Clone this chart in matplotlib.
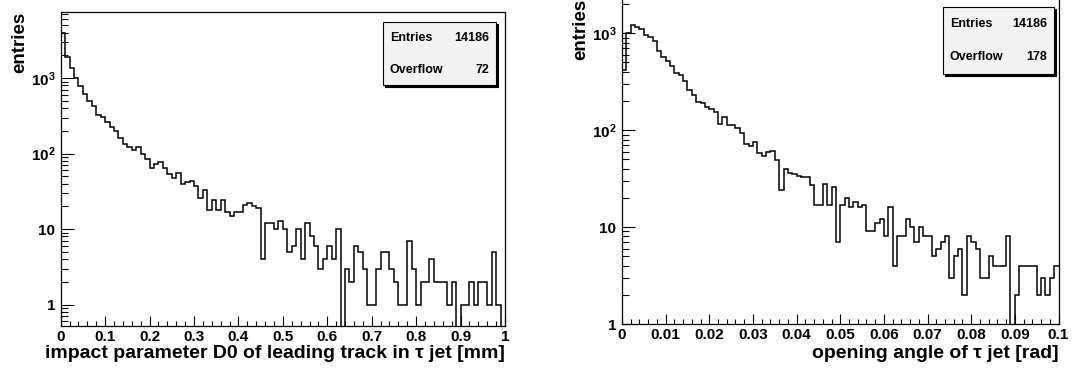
import numpy as np
import matplotlib
matplotlib.use('Agg')
import matplotlib.pyplot as plt
from matplotlib.ticker import FixedLocator, LogLocator, MultipleLocator, FuncFormatter, NullFormatter
from matplotlib.patches import Rectangle

plt.rcParams['font.family'] = ['Liberation Sans', 'DejaVu Sans']
plt.rcParams['font.weight'] = 'bold'
plt.rcParams['mathtext.fontset'] = 'custom'
plt.rcParams['mathtext.rm'] = 'Liberation Sans:bold'
plt.rcParams['mathtext.it'] = 'Liberation Sans:bold'
plt.rcParams['mathtext.bf'] = 'Liberation Sans:bold'

# impact parameter D0 histogram, 100 bins over [0, 1] mm
d0_counts = [4000, 1930, 1350, 1000, 790, 610, 500, 430, 330, 310,
             260, 228, 200, 162, 133, 123, 112, 123, 100, 85,
             64, 74, 78, 64, 53, 48, 55, 40, 42, 44,
             37, 26, 33, 18, 24, 18, 24, 17, 15, 17,
             17, 21, 22, 20, 19, 4, 12, 12, 10, 13,
             10, 5, 6, 10, 4, 12, 8, 6, 3, 4,
             6, 4, 10, 0, 3, 2, 6, 5, 3, 1,
             1, 3, 5, 5, 3, 2, 1, 1, 7, 3,
             1, 2, 2, 4, 2, 2, 2, 1, 2, 0,
             1, 1, 2, 1, 2, 2, 1, 5, 1, 0]
d0_range = (0.0, 1.0)
d0_stats = [('Entries', '14186'), ('Overflow', '72')]

# opening angle histogram, 100 bins over [0, 0.1] rad
angle_counts = [420, 1000, 1220, 1170, 1110, 960, 910, 840, 660, 570,
                520, 460, 385, 370, 318, 260, 230, 197, 189, 175,
                164, 153, 117, 135, 113, 113, 106, 94, 72, 68,
                76, 58, 54, 60, 61, 49, 24, 40, 36, 35,
                34, 33, 33, 27, 17, 17, 28, 17, 26, 7,
                17, 20, 16, 18, 16, 17, 9, 9, 11, 12,
                8, 16, 4, 8, 8, 12, 10, 7, 10, 8,
                8, 5, 6, 7, 8, 3, 5, 6, 2, 8,
                7, 6, 3, 3, 5, 4, 4, 4, 8, 0,
                2, 4, 4, 4, 4, 2, 3, 2, 3, 4]
angle_range = (0.0, 0.1)
angle_stats = [('Entries', '14186'), ('Overflow', '178')]

d0_xticks = [0, 0.1, 0.2, 0.3, 0.4, 0.5, 0.6, 0.7, 0.8, 0.9, 1]
d0_xlabels = ['0', '0.1', '0.2', '0.3', '0.4', '0.5', '0.6', '0.7', '0.8', '0.9', '1']
angle_xticks = [0, 0.01, 0.02, 0.03, 0.04, 0.05, 0.06, 0.07, 0.08, 0.09, 0.1]
angle_xlabels = ['0', '0.01', '0.02', '0.03', '0.04', '0.05', '0.06', '0.07', '0.08', '0.09', '0.1']
ylabels = {1: '1', 10: '10', 100: r'$10^{2}$', 1000: r'$10^{3}$'}

W, H = 1073, 377
fig = plt.figure(figsize=(W / 100, H / 100), dpi=100)


def px_axes(x0, y0, x1, y1):
    return fig.add_axes([x0 / W, 1 - y1 / H, (x1 - x0) / W, (y1 - y0) / H])


def ylab(v, pos):
    return ylabels.get(int(round(v)), '')


def draw_hist(ax, counts, xr, xticks, xlabels, xminor, ylim):
    edges = np.linspace(xr[0], xr[1], len(counts) + 1)
    ax.stairs(counts, edges, color='black', lw=1.1, baseline=None)
    ax.set_yscale('log')
    ax.set_xlim(xr)
    ax.set_ylim(ylim)
    ax.yaxis.set_major_locator(FixedLocator([1, 10, 100, 1000]))
    ax.yaxis.set_major_formatter(FuncFormatter(ylab))
    ax.yaxis.set_minor_locator(LogLocator(base=10, subs=np.arange(2, 10), numticks=30))
    ax.yaxis.set_minor_formatter(NullFormatter())
    ax.xaxis.set_major_locator(FixedLocator(xticks))
    ax.set_xticklabels(xlabels)
    ax.xaxis.set_minor_locator(MultipleLocator(xminor))
    ax.tick_params(which='both', direction='in', top=False, right=False, width=0.8, color='black')
    ax.tick_params(axis='y', which='major', length=9.5, pad=4, labelsize=11)
    ax.tick_params(axis='y', which='minor', length=5)
    ax.tick_params(axis='x', which='major', length=7, pad=3, labelsize=11)
    ax.tick_params(axis='x', which='minor', length=3.6)
    for s in ax.spines.values():
        s.set_linewidth(0.9)


def stats_box(x0, y0, x1, y1, rows, row_y):
    fig.add_artist(Rectangle(((x0 + 2) / W, 1 - (y1 + 2) / H), (x1 - x0) / W, (y1 - y0) / H,
                             transform=fig.transFigure, facecolor='black', edgecolor='black', lw=0.8))
    fig.add_artist(Rectangle((x0 / W, 1 - y1 / H), (x1 - x0) / W, (y1 - y0) / H,
                             transform=fig.transFigure, facecolor='#f2f2f2', edgecolor='black', lw=0.8))
    for (name, val), yy in zip(rows, row_y):
        fig.text((x0 + 7) / W, 1 - yy / H, name, ha='left', va='center', fontsize=9, fontweight='bold')
        fig.text((x1 - 7) / W, 1 - yy / H, val, ha='right', va='center', fontsize=9, fontweight='bold')


ax1 = px_axes(60.7, 12, 505, 326)
draw_hist(ax1, d0_counts, d0_range, d0_xticks, d0_xlabels, 0.02, (0.52, 7530))
ax2 = px_axes(622, -2, 1058.5, 324)
draw_hist(ax2, angle_counts, angle_range, angle_xticks, angle_xlabels, 0.002, (1, 2306))

fig.text(19.5 / W, 1 - 12 / H, 'entries', rotation=90, ha='center', va='top', fontsize=13.5, fontweight='bold')
fig.text(581 / W, 1 + 1 / H, 'entries', rotation=90, ha='center', va='top', fontsize=13.5, fontweight='bold')
fig.text(505 / W, 1 - 358 / H, 'impact parameter D0 of leading track in τ jet [mm]',
         ha='right', va='baseline', fontsize=14, fontweight='bold')
fig.text(1058.5 / W, 1 - 358 / H, 'opening angle of τ jet [rad]',
         ha='right', va='baseline', fontsize=14, fontweight='bold')

stats_box(383, 22, 496, 85, d0_stats, [38.3, 70])
stats_box(943, 7, 1054, 74, angle_stats, [24, 57.3])

fig.savefig('out.png', dpi=100)
